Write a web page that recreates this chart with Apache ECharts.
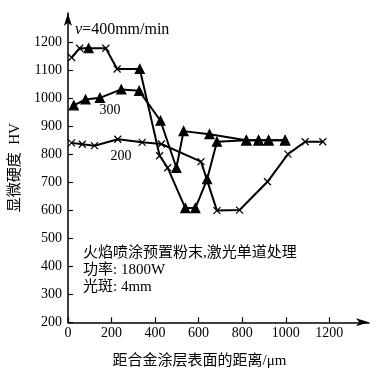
<!DOCTYPE html>
<html>
<head>
<meta charset="utf-8">
<script src="https://cdn.jsdelivr.net/npm/echarts@6/dist/echarts.min.js"></script>
<style>html,body{margin:0;padding:0;background:#fff;}#c{width:379px;height:386px;}</style>
</head>
<body>
<div id="c"></div>
<script>
// distances (µm) and hardness (HV)
const x400 = [17, 54, 95, 174, 226, 330, 421, 458, 539, 585, 639, 684, 819, 875, 921, 997];
const y400 = [1146, 1179, 1179, 1179, 1105, 1105, 795, 752, 608, 608, 711, 845, 850, 850, 850, 850];
const m400 = ['x', 'x', 't', 'x', 'x', 't', 'x', 'x', 't', 't', 't', 't', 't', 't', 't', 't'];

const x300 = [27, 81, 147, 245, 327, 425, 498, 531, 650, 819, 875, 921, 997];
const y300 = [975, 996, 1002, 1032, 1027, 920, 752, 883, 872, 850, 850, 850, 850];

const x200 = [17, 66, 122, 229, 341, 429, 611, 684, 788, 916, 1010, 1089, 1170];
const y200 = [841, 836, 831, 854, 843, 837, 774, 599, 601, 702, 801, 845, 845];

const xTicks = [0, 200, 400, 600, 800, 1000, 1200];
const yTicks = [200, 300, 400, 500, 600, 700, 800, 900, 1000, 1100, 1200];

const seriesNames = ['400', '300', '200'];
const noteTop = 'v=400mm/min';
const noteLines = ['火焰喷涂预置粉末,激光单道处理', '功率: 1800W', '光斑: 4mm'];
const xName = '距合金涂层表面的距离/μm';
const yName = '显微硬度  HV';

const XPATH = 'path://M0,0L10,10M0,10L10,0';
const FONT = "'Liberation Serif', 'Noto Sans CJK SC', serif";

function pts(xs, ys, marks) {
  return xs.map((x, i) => {
    const m = marks ? marks[i] : null;
    const item = { value: [x, ys[i]] };
    if (m === 't') { item.symbol = 'triangle'; item.symbolSize = 9; }
    if (m === 'x') { item.symbol = XPATH; item.symbolSize = 7; }
    return item;
  });
}

const lineBase = {
  type: 'line',
  lineStyle: { color: '#000', width: 2 },
  itemStyle: { color: '#000', borderColor: '#000', borderWidth: 1.2 },
  z: 3
};

const plain = v => String(v);

const chart = echarts.init(document.getElementById('c'), null, { renderer: 'canvas' });
chart.setOption({
  animation: false,
  backgroundColor: '#fff',
  grid: { left: 67.3, right: 10, top: 13, bottom: 63.7, containLabel: false },
  xAxis: {
    type: 'value', min: 0, max: 1382,
    name: xName, nameLocation: 'middle', nameGap: 31,
    nameTextStyle: { fontFamily: FONT, fontSize: 15, color: '#000', padding: [0, 38, 0, 0] },
    axisLine: { show: true, lineStyle: { color: '#000', width: 1.5 }, symbol: ['none', 'arrow'], symbolSize: [6, 13] },
    axisTick: { show: true, inside: true, length: 5, customValues: xTicks, lineStyle: { color: '#000', width: 1.2 } },
    axisLabel: { customValues: xTicks, formatter: plain, fontFamily: FONT, fontSize: 14, color: '#000', margin: 4 },
    splitLine: { show: false }
  },
  yAxis: {
    type: 'value', min: 200, max: 1305,
    name: yName, nameLocation: 'middle', nameGap: 40, nameRotate: 90,
    nameTextStyle: { fontFamily: FONT, fontSize: 15, color: '#000', padding: [0, 0, 0, 0] },
    axisLine: { show: true, lineStyle: { color: '#000', width: 1.5 }, symbol: ['none', 'arrow'], symbolSize: [6, 13] },
    axisTick: { show: true, inside: true, length: 5, customValues: yTicks, lineStyle: { color: '#000', width: 1.2 } },
    axisLabel: { customValues: yTicks, formatter: plain, fontFamily: FONT, fontSize: 14, color: '#000', margin: 6 },
    splitLine: { show: false }
  },
  series: [
    Object.assign({}, lineBase, { name: seriesNames[0], data: pts(x400, y400, m400) }),
    Object.assign({}, lineBase, { name: seriesNames[1], symbol: 'triangle', symbolSize: 9, data: pts(x300, y300) }),
    Object.assign({}, lineBase, { name: seriesNames[2], symbol: XPATH, symbolSize: 7, data: pts(x200, y200) })
  ],
  graphic: [
    { type: 'text', left: 75, top: 22, style: {
      text: '{i|v}' + noteTop.slice(1), font: '16px ' + FONT, fill: '#000',
      rich: { i: { fontStyle: 'italic', fontFamily: FONT, fontSize: 16 } } } },
    { type: 'text', x: 110, y: 110, style: { text: seriesNames[1], font: '14px ' + FONT, fill: '#000', align: 'center', verticalAlign: 'middle' } },
    { type: 'text', x: 121, y: 156, style: { text: seriesNames[2], font: '14px ' + FONT, fill: '#000', align: 'center', verticalAlign: 'middle' } },
    { type: 'text', x: 83, y: 253.5, style: { text: noteLines[0], font: '15px ' + FONT, fill: '#000', verticalAlign: 'middle' } },
    { type: 'text', x: 83, y: 270.5, style: { text: noteLines[1], font: '15px ' + FONT, fill: '#000', verticalAlign: 'middle' } },
    { type: 'text', x: 83, y: 287.5, style: { text: noteLines[2], font: '15px ' + FONT, fill: '#000', verticalAlign: 'middle' } }
  ]
});
</script>
</body>
</html>
